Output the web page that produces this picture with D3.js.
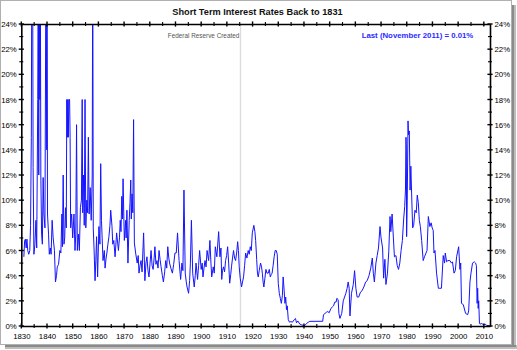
<!DOCTYPE html>
<html><head><meta charset="utf-8">
<script src="https://cdn.jsdelivr.net/npm/d3@7"></script>
<style>
html,body{margin:0;padding:0;background:#fff;}
svg{display:block;font-family:"Liberation Sans",Arial,sans-serif;}
</style></head>
<body><svg id="c" width="517" height="350"></svg>
<script>
const title = "Short Term Interest Rates Back to 1831";
const lastNote = "Last (November 2011) = 0.01%";
const fedNote = "Federal Reserve Created";
const fedYear = 1915.3;
const xDomain = [1830, 2012.4];
const yDomain = [0, 24];
const yearTicks = [1830,1840,1850,1860,1870,1880,1890,1900,1910,1920,1930,1940,1950,1960,1970,1980,1990,2000,2010];
const yearMinorTicks = [1835,1845,1855,1865,1875,1885,1895,1905,1915,1925,1935,1945,1955,1965,1975,1985,1995,2005];
const rateTicks = [0,2,4,6,8,10,12,14,16,18,20,22,24];
const rateMinorTicks = [1,3,5,7,9,11,13,15,17,19,21,23];

const years = [
1831.0,1831.3,1831.6,1831.9,1832.2,1832.5,1832.9,1833.3,1833.6,1833.9,1834.1,1834.4,1834.6,1834.9,1835.3,1835.7,1836.0,1836.4,1836.6,1836.8,
1837.0,1837.2,1837.4,1837.6,1837.9,1838.2,1838.5,1838.8,1839.2,1839.6,1839.9,1840.0,1840.2,1840.6,1840.9,1841.3,1841.6,1842.0,1842.4,1842.9,
1843.3,1843.7,1844.0,1844.5,1845.0,1845.4,1845.8,1846.0,1846.3,1846.6,1846.9,1847.2,1847.5,1847.7,1847.9,1848.1,1848.3,1848.5,1848.8,1849.0,
1849.2,1849.6,1850.0,1850.5,1850.9,1851.2,1851.5,1851.8,1852.2,1852.6,1853.0,1853.4,1853.7,1853.9,1854.2,1854.5,1854.8,1855.1,1855.5,1855.8,
1856.1,1856.4,1856.8,1857.2,1857.6,1857.8,1858.0,1858.3,1858.7,1859.0,1859.3,1859.7,1860.2,1860.6,1860.9,1861.2,1861.8,1862.3,1862.6,1863.0,
1863.3,1863.7,1864.1,1864.5,1864.8,1865.3,1865.6,1866.0,1866.5,1867.1,1867.5,1867.8,1868.2,1868.5,1868.8,1869.1,1869.4,1869.6,1870.1,1870.6,
1870.8,1871.1,1871.5,1872.0,1872.3,1872.6,1872.8,1873.1,1873.4,1873.7,1874.0,1874.5,1875.1,1875.5,1875.8,1876.2,1876.6,1877.0,1877.6,1878.1,
1878.5,1878.9,1879.3,1879.7,1880.1,1880.5,1880.9,1881.3,1881.7,1882.0,1882.4,1882.8,1883.2,1883.6,1884.0,1884.4,1884.9,1885.3,1885.8,1886.2,
1886.6,1887.0,1887.4,1887.7,1888.2,1888.8,1889.3,1889.8,1890.3,1890.8,1891.4,1892.0,1892.5,1892.9,1893.3,1893.8,1894.2,1894.5,1895.1,1895.5,
1895.8,1896.2,1896.7,1897.3,1897.7,1898.0,1898.6,1899.0,1899.4,1900.0,1900.4,1900.7,1901.1,1901.5,1901.9,1902.3,1902.9,1903.4,1903.8,1904.1,
1904.7,1905.1,1905.5,1906.1,1906.8,1907.3,1907.7,1908.0,1908.3,1908.7,1909.1,1909.5,1909.9,1910.3,1910.7,1911.1,1911.5,1911.8,1912.2,1912.6,
1913.0,1913.4,1913.8,1914.2,1914.5,1914.8,1915.2,1915.7,1916.1,1916.5,1916.9,1917.3,1917.8,1918.3,1918.7,1919.1,1919.5,1919.9,1920.5,1920.9,
1921.2,1921.6,1921.9,1922.2,1922.6,1923.1,1923.5,1923.8,1924.1,1924.4,1924.8,1925.2,1925.6,1926.1,1926.5,1926.9,1927.3,1927.6,1928.0,1928.4,
1928.8,1929.2,1929.6,1930.0,1930.4,1930.8,1931.2,1931.6,1931.9,1932.3,1932.6,1932.9,1933.2,1933.5,1933.9,1934.4,1934.9,1935.5,1936.2,1936.7,
1937.1,1937.6,1938.4,1939.0,1939.7,1940.4,1941.0,1941.7,1942.3,1947.3,1947.6,1948.2,1948.8,1949.3,1949.8,1950.5,1951.0,1951.5,1952.0,1952.5,
1952.8,1953.3,1953.6,1954.0,1954.7,1955.3,1955.8,1956.3,1956.8,1957.2,1957.6,1957.9,1958.5,1959.2,1959.7,1960.2,1960.7,1961.3,1962.0,1962.6,
1963.3,1964.0,1964.6,1965.3,1966.0,1966.6,1967.0,1967.4,1968.0,1968.5,1969.0,1969.6,1970.0,1970.6,1971.0,1971.5,1971.9,1972.5,1973.0,1973.5,
1973.8,1974.3,1974.8,1975.2,1975.8,1976.3,1976.8,1977.3,1977.8,1978.3,1978.8,1979.2,1979.5,1979.7,1979.85,1979.95,1980.2,1980.5,1980.7,1981.0,
1981.3,1981.6,1981.9,1982.3,1982.7,1983.2,1983.7,1984.1,1984.5,1984.9,1985.3,1985.8,1986.4,1986.9,1987.5,1987.9,1988.4,1989.0,1989.5,1989.9,
1990.3,1990.6,1991.0,1991.6,1992.3,1992.9,1993.5,1994.2,1994.7,1995.0,1995.5,1996.0,1996.8,1997.4,1997.8,1998.4,1998.9,1999.4,2000.2,2000.7,
2001.0,2001.3,2002.0,2002.9,2003.7,2004.1,2004.6,2005.0,2005.6,2006.3,2006.8,2007.1,2007.4,2007.6,2007.8,2008.0,2008.3,2008.5,2009.2,2009.8,
2010.5,2011.1,2011.9
];
const rates = [
5.5,6.8,6.9,6.2,6.9,6.0,5.7,6.0,8.0,15.0,30,30,12.6,5.7,6.5,8.4,6.2,18.0,30,12,
30,18,30,12,7.3,6.5,11.8,8.9,7.8,30,14,30,8.9,7.3,5.7,6.2,5.7,8.4,7.0,6.0,
3.5,4.0,4.7,4.9,6.0,5.8,8.9,6.3,12.0,6.5,7.0,9.4,7.8,18.0,15.0,18.0,15.0,18.0,18.0,15.0,
7.8,8.9,7.0,8.9,6.0,7.3,16.0,6.0,7.3,6.0,9.4,10.0,18.0,9.0,12.0,8.0,18.0,7.8,10.0,9.0,
15.0,8.9,11.0,8.4,12.0,30,7.8,6.2,3.6,5.2,7.1,3.9,7.9,6.5,12.9,8.4,5.2,6.0,4.6,5.4,
5.8,6.5,7.1,8.0,9.2,7.9,6.5,6.8,5.5,7.4,6.6,6.0,7.0,8.4,7.5,10.3,8.5,11.7,6.8,8.4,
7.0,9.2,5.0,8.4,9.8,11.6,8.5,10.5,9.0,16.4,6.6,5.8,5.0,5.6,4.2,4.8,5.2,4.3,7.4,3.6,
5.0,5.5,4.4,3.9,5.0,6.0,4.8,4.5,5.4,6.3,4.9,5.2,4.6,6.0,5.3,4.7,4.0,3.5,4.3,5.2,
4.6,6.3,5.4,5.0,4.6,4.2,4.9,5.8,5.8,7.4,5.2,3.7,5.0,4.4,10.8,4.2,3.5,3.1,2.6,3.6,
5.0,8.4,4.2,3.1,4.0,5.0,3.7,4.8,6.0,4.5,5.0,3.9,4.6,5.2,4.7,6.0,5.2,6.8,5.0,3.9,
4.7,4.2,6.3,5.5,7.5,5.5,6.2,3.7,4.4,4.7,4.3,5.2,5.6,6.3,5.0,3.4,4.1,4.7,5.4,6.0,
5.4,5.2,5.8,6.7,6.0,4.7,3.8,3.1,3.5,3.9,4.8,5.8,5.4,6.0,5.7,6.3,6.0,7.4,8.0,7.5,
6.8,5.3,4.2,3.9,4.4,5.0,4.7,4.2,3.5,3.1,3.8,4.5,4.2,4.2,4.5,3.9,4.1,4.2,4.8,5.5,
6.0,6.0,5.7,3.4,2.6,2.2,1.8,2.4,3.9,2.8,1.8,2.3,1.3,1.6,0.5,0.3,0.35,0.3,0.5,0.6,
0.25,0.4,0.15,0.1,0.05,0.05,0.2,0.3,0.37,0.375,0.9,1.0,1.1,1.15,1.05,1.4,1.5,1.6,1.9,1.9,
2.2,2.1,1.0,0.6,1.0,2.0,2.3,2.6,3.0,3.5,3.0,0.8,2.6,3.3,4.4,3.0,2.3,2.3,2.7,2.8,
3.1,3.5,3.6,4.0,4.6,5.4,4.2,3.5,5.0,5.6,6.2,7.9,7.0,6.2,3.8,5.3,3.3,4.2,5.9,8.7,
7.5,8.9,7.0,5.5,5.6,4.8,4.5,5.0,6.0,6.8,8.5,9.5,10.8,15.0,14.0,7.1,10.0,16.3,15.2,15.5,
10.8,12.7,10.5,7.8,8.0,9.2,9.0,10.4,9.8,8.4,7.9,6.8,5.2,5.5,5.8,6.0,8.7,7.9,8.2,7.8,
7.6,5.8,6.0,4.2,3.0,3.0,3.0,5.6,5.0,5.8,5.1,5.2,5.2,5.0,5.1,4.2,4.4,5.5,6.3,4.5,
5.0,1.8,1.7,1.0,0.9,1.2,3.5,4.2,5.0,5.1,5.0,4.8,1.8,3.0,1.4,2.0,0.2,0.15,0.2,0.1,
0.15,0.05,0.01
];

const svg = d3.select("#c");
const W = 517, H = 350;
const L = 21.3, R = 490, T = 24, B = 326;

// frame with shadow
svg.append("rect").attr("x",5).attr("y",345).attr("width",512).attr("height",4).attr("fill","#bdbdbd");
svg.append("rect").attr("x",512).attr("y",5).attr("width",4).attr("height",344).attr("fill","#bdbdbd");
svg.append("rect").attr("x",5).attr("y",345).attr("width",511).attr("height",2).attr("fill","#8a8a8a");
svg.append("rect").attr("x",512).attr("y",5).attr("width",2).attr("height",342).attr("fill","#8a8a8a");
svg.append("rect").attr("x",0.5).attr("y",0.5).attr("width",511).attr("height",344).attr("fill","#fff").attr("stroke","#b0b0b0");

const x = d3.scaleLinear().domain(xDomain).range([L, R]);
const y = d3.scaleLinear().domain(yDomain).range([B, T]);

// Fed line
svg.append("line").attr("x1",x(fedYear)).attr("x2",x(fedYear)).attr("y1",T).attr("y2",B)
  .attr("stroke","#dcdcdc").attr("stroke-width",1.4);

// data line
svg.append("clipPath").attr("id","clip").append("rect").attr("x",L).attr("y",T).attr("width",R-L).attr("height",B-T);
const line = d3.line().x((d,i)=>x(years[i])).y((d,i)=>y(rates[i]));
svg.append("path").datum(rates).attr("clip-path","url(#clip)").attr("d",line)
  .attr("fill","none").attr("stroke","#1414ff").attr("stroke-width",1).attr("stroke-linejoin","round");

// axes
const fmtPct = d => d + "%";
function styleAxis(g){
  g.select(".domain").attr("stroke","#000").attr("stroke-width",1.6);
  g.selectAll("text").attr("font-size",7.8).attr("fill","#000").attr("font-family","'Liberation Sans',Arial,sans-serif");
}
const axB = svg.append("g").attr("transform",`translate(0,${B})`)
  .call(d3.axisBottom(x).tickValues(yearTicks).tickFormat(d3.format("d")).tickSize(0).tickPadding(7.5));
styleAxis(axB);
const axT = svg.append("g").attr("transform",`translate(0,${T})`)
  .call(d3.axisTop(x).tickValues(yearTicks).tickFormat("").tickSize(0));
styleAxis(axT);
const axL = svg.append("g").attr("transform",`translate(${L},0)`)
  .call(d3.axisLeft(y).tickValues(rateTicks).tickFormat(fmtPct).tickSize(0).tickPadding(4.5));
styleAxis(axL);
const axR = svg.append("g").attr("transform",`translate(${R},0)`)
  .call(d3.axisRight(y).tickValues(rateTicks).tickFormat(fmtPct).tickSize(0).tickPadding(4.5));
styleAxis(axR);

// tick marks crossing axes
const tk = svg.append("g").attr("stroke","#000").attr("stroke-width",1.4);
[B, T].forEach(yy => {
  yearTicks.forEach(v => tk.append("line").attr("x1",x(v)).attr("x2",x(v)).attr("y1",yy-2.6).attr("y2",yy+2.6));
  yearMinorTicks.forEach(v => tk.append("line").attr("x1",x(v)).attr("x2",x(v)).attr("y1",yy-2).attr("y2",yy+2).attr("stroke-width",1.1));
});
[L, R].forEach(xx => {
  rateTicks.forEach(v => tk.append("line").attr("y1",y(v)).attr("y2",y(v)).attr("x1",xx-2.6).attr("x2",xx+2.6));
  rateMinorTicks.forEach(v => tk.append("line").attr("y1",y(v)).attr("y2",y(v)).attr("x1",xx-2).attr("x2",xx+2).attr("stroke-width",1.1));
});

// texts
svg.append("text").attr("x",257.5).attr("y",15).attr("text-anchor","middle")
  .attr("font-size",9.2).attr("font-weight","bold").attr("fill","#111").text(title);
svg.append("text").attr("x",361.7).attr("y",37.7)
  .attr("font-size",7.8).attr("font-weight","bold").attr("fill","#2a2aff").text(lastNote);
svg.append("text").attr("x",239.3).attr("y",38.3).attr("text-anchor","end")
  .attr("font-size",6.8).attr("fill","#555").attr("textLength",71.5).attr("lengthAdjust","spacingAndGlyphs").text(fedNote);
</script></body></html>
